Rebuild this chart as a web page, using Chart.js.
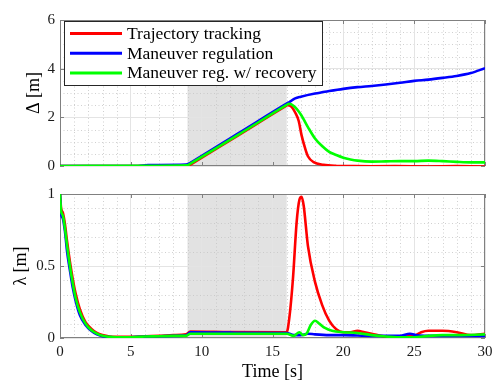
<!DOCTYPE html>
<html>
<head>
<meta charset="utf-8">
<script src="https://cdn.jsdelivr.net/npm/chart.js@4.4.1/dist/chart.umd.min.js"></script>
<style>
  body { margin: 0; background: #fff; }
  #wrap { position: relative; width: 492px; height: 381px; }
  canvas { position: absolute; left: 0; }
</style>
</head>
<body>
<div id="wrap">
  <canvas id="deltaChart" width="492" height="180" style="top:0;width:492px;height:180px"></canvas>
  <canvas id="lambdaChart" width="492" height="201" style="top:180px;width:492px;height:201px"></canvas>
</div>
<script>
// labels
const seriesNames = ["Trajectory tracking", "Maneuver regulation", "Maneuver reg. w/ recovery"];
const seriesColors = ["#ff0000", "#0000ff", "#00ff00"];
const xTicks = [0, 5, 10, 15, 20, 25, 30];
const shadeWindow = [9, 16];

// top plot: Delta [m]
const tDeltaTrack = [0, 6, 7, 9, 9.15, 12.5, 15.9, 16.05, 16.35, 16.6, 16.85, 17.05, 17.3, 17.5, 17.9, 18.6, 19.5, 22, 26, 30];
const deltaTrack = [0, 0, -0.01, -0.02, 0.035, 1.23, 2.45, 2.5, 2.43, 2.2, 1.85, 1.27, 0.73, 0.4, 0.16, 0.05, 0.01, -0.01, -0.02, -0.02];
const tDeltaReg = [0, 5.5, 6.2, 8.9, 9.2, 9.35, 12.7, 16.05, 16.2, 16.6, 17, 18, 19, 20, 21, 22, 23, 24, 25, 26, 27, 28, 29, 30];
const deltaReg = [0, 0, 0.04, 0.06, 0.13, 0.18, 1.38, 2.58, 2.63, 2.78, 2.85, 2.98, 3.08, 3.17, 3.24, 3.29, 3.35, 3.42, 3.5, 3.55, 3.62, 3.7, 3.82, 4.02];
const tDeltaRecov = [0, 6, 9, 9.15, 12.6, 16.0, 16.15, 16.5, 17, 17.5, 18, 18.5, 19, 19.5, 20, 20.5, 21, 22, 23, 24, 25, 26, 27, 28, 29, 30];
const deltaRecov = [0, 0.01, 0.03, 0.08, 1.29, 2.51, 2.56, 2.47, 2.12, 1.6, 1.13, 0.82, 0.58, 0.45, 0.34, 0.27, 0.22, 0.18, 0.19, 0.2, 0.2, 0.22, 0.2, 0.17, 0.15, 0.15];

// bottom plot: lambda [m]
const tLamTrack = [0, 0.08, 0.2, 0.35, 0.5, 0.7, 0.9, 1.1, 1.4, 1.8, 2.2, 2.6, 3, 3.5, 4, 5, 6, 7, 8, 8.9, 9.2, 12, 16, 16.2, 16.45, 16.7, 16.9, 17.05, 17.2, 17.5, 18, 18.5, 19, 19.5, 20, 20.5, 21, 21.5, 22, 23, 24, 25, 25.5, 26, 27, 28, 29, 30];
const lamTrack = [1, 0.9, 0.87, 0.79, 0.67, 0.53, 0.41, 0.31, 0.2, 0.11, 0.065, 0.035, 0.02, 0.01, 0.008, 0.008, 0.012, 0.015, 0.02, 0.025, 0.045, 0.042, 0.04, 0.15, 0.42, 0.8, 0.96, 0.98, 0.92, 0.64, 0.39, 0.23, 0.12, 0.06, 0.04, 0.04, 0.05, 0.04, 0.03, 0.01, 0.01, 0.015, 0.04, 0.05, 0.05, 0.04, 0.02, 0.03];
const tLamReg = [0, 0.08, 0.2, 0.35, 0.5, 0.7, 0.9, 1.1, 1.4, 1.8, 2.2, 2.6, 3, 3.5, 4, 5, 6, 7, 8, 8.9, 9.2, 12, 16, 16.5, 17, 17.5, 18, 19, 20, 22, 24, 24.7, 25.2, 26, 28, 30];
const lamReg = [1, 0.86, 0.83, 0.74, 0.6, 0.47, 0.35, 0.26, 0.16, 0.09, 0.05, 0.025, 0.012, 0.006, 0.004, 0.005, 0.01, 0.012, 0.015, 0.018, 0.04, 0.037, 0.035, 0.02, 0.02, 0.03, 0.025, 0.02, 0.02, 0.015, 0.015, 0.03, 0.018, 0.015, 0.015, 0.015];
const tLamRecov = [0, 0.08, 0.2, 0.35, 0.5, 0.7, 0.9, 1.1, 1.4, 1.8, 2.2, 2.6, 3, 3.5, 4, 5, 6, 7, 8, 8.9, 9.2, 12, 16, 16.5, 16.9, 17.15, 17.4, 17.7, 18, 18.3, 18.7, 19.2, 20, 21, 22, 23, 24, 25, 26, 27, 28, 30];
const lamRecov = [1, 0.88, 0.85, 0.76, 0.64, 0.5, 0.38, 0.28, 0.18, 0.1, 0.055, 0.03, 0.015, 0.008, 0.005, 0.005, 0.01, 0.012, 0.015, 0.015, 0.03, 0.03, 0.03, 0.015, 0.04, 0.02, 0.03, 0.09, 0.12, 0.1, 0.07, 0.05, 0.04, 0.035, 0.02, 0.01, 0.005, 0.005, 0.015, 0.02, 0.02, 0.025];

const serif = "'Liberation Serif', 'Times New Roman', serif";
const pts = (t, v) => t.map((x, i) => ({ x: x, y: v[i] }));

const makeSet = (i, t, v) => ({
  label: seriesNames[i],
  data: pts(t, v),
  borderColor: seriesColors[i],
  borderWidth: 2.6,
  pointRadius: 0,
  cubicInterpolationMode: "monotone",
  order: 2 - i,
});

// shaded window, minor grid, frame, inward ticks
const matlabAxes = {
  id: "matlabAxes",
  beforeDraw(chart, args, opts) {
    const { ctx, chartArea: a, scales: { x, y } } = chart;
    ctx.save();
    const x0 = x.getPixelForValue(shadeWindow[0]);
    const x1 = x.getPixelForValue(shadeWindow[1]);
    ctx.fillStyle = "#e2e2e2";
    ctx.fillRect(x0, a.top, x1 - x0, a.bottom - a.top);
    ctx.strokeStyle = "#c4c4c4";
    ctx.lineWidth = 0.8;
    ctx.setLineDash([1, 2.5]);
    for (let v = x.min; v <= x.max; v += 1) {
      if (v % 5 === 0) continue;
      const px = Math.round(x.getPixelForValue(v)) + 0.5;
      ctx.beginPath(); ctx.moveTo(px, a.top); ctx.lineTo(px, a.bottom); ctx.stroke();
    }
    const n = Math.round((y.max - y.min) / opts.minorY);
    for (let k = 1; k < n; k++) {
      const py = Math.round(y.getPixelForValue(y.min + k * opts.minorY)) + 0.5;
      ctx.beginPath(); ctx.moveTo(a.left, py); ctx.lineTo(a.right, py); ctx.stroke();
    }
    ctx.restore();
  },
  beforeDatasetsDraw(chart) {
    const { ctx, chartArea: a, scales: { x, y } } = chart;
    ctx.save();
    ctx.strokeStyle = "#808080";
    ctx.lineWidth = 1;
    ctx.strokeRect(a.left + 0.5, a.top + 0.5, a.right - a.left - 1, a.bottom - a.top - 1);
    ctx.beginPath();
    x.ticks.forEach(t => {
      const px = Math.round(x.getPixelForValue(t.value)) + 0.5;
      ctx.moveTo(px, a.bottom); ctx.lineTo(px, a.bottom - 4);
      ctx.moveTo(px, a.top); ctx.lineTo(px, a.top + 4);
    });
    y.ticks.forEach(t => {
      const py = Math.round(y.getPixelForValue(t.value)) + 0.5;
      ctx.moveTo(a.left, py); ctx.lineTo(a.left + 4, py);
      ctx.moveTo(a.right, py); ctx.lineTo(a.right - 4, py);
    });
    ctx.stroke();
    ctx.restore();
  },
};

// boxed legend in the upper-left corner
const boxLegend = {
  id: "boxLegend",
  afterDraw(chart) {
    const { ctx } = chart;
    ctx.save();
    ctx.fillStyle = "#fff";
    ctx.fillRect(64.5, 21.5, 258, 64);
    ctx.strokeStyle = "#262626";
    ctx.lineWidth = 1;
    ctx.strokeRect(64.5, 21.5, 258, 64);
    ctx.font = "17.5px " + serif;
    ctx.textBaseline = "middle";
    chart.data.datasets.forEach((ds, i) => {
      const yy = 33.5 + i * 19.7;
      ctx.strokeStyle = ds.borderColor;
      ctx.lineWidth = 3;
      ctx.beginPath(); ctx.moveTo(70, yy); ctx.lineTo(122, yy); ctx.stroke();
      ctx.fillStyle = "#000";
      ctx.fillText(ds.label, 127, yy + 1);
    });
    ctx.restore();
  },
};

Chart.defaults.font.family = serif;
Chart.defaults.color = "#1a1a1a";

const gridStyle = { color: "#e4e4e4", lineWidth: 1, drawTicks: false };
const noPad = s => { s.paddingLeft = 0; s.paddingRight = 0; };

new Chart(document.getElementById("deltaChart"), {
  type: "line",
  data: {
    datasets: [
      makeSet(0, tDeltaTrack, deltaTrack),
      makeSet(1, tDeltaReg, deltaReg),
      makeSet(2, tDeltaRecov, deltaRecov),
    ],
  },
  plugins: [matlabAxes, boxLegend],
  options: {
    responsive: false,
    animation: false,
    layout: { padding: { left: 23, right: 7, top: 20, bottom: 0 } },
    plugins: { legend: { display: false }, tooltip: { enabled: false }, matlabAxes: { minorY: 0.5 } },
    scales: {
      x: {
        type: "linear", min: 0, max: 30,
        afterBuildTicks: s => { s.ticks = xTicks.map(v => ({ value: v })); },
        ticks: { display: false },
        grid: gridStyle,
        border: { display: false },
        afterFit: s => { s.height = 12; noPad(s); },
      },
      y: {
        min: 0, max: 6,
        ticks: { stepSize: 2, padding: 5, font: { size: 15 } },
        grid: gridStyle,
        border: { display: false },
        title: { display: true, text: "Δ [m]", font: { size: 18 }, padding: 0, color: "#000" },
        afterFit: s => { s.width = 37; },
      },
    },
  },
});

new Chart(document.getElementById("lambdaChart"), {
  type: "line",
  data: {
    datasets: [
      makeSet(0, tLamTrack, lamTrack),
      makeSet(1, tLamReg, lamReg),
      makeSet(2, tLamRecov, lamRecov),
    ],
  },
  plugins: [matlabAxes],
  options: {
    responsive: false,
    animation: false,
    layout: { padding: { left: 10, right: 7, top: 11, bottom: 0 } },
    plugins: { legend: { display: false }, tooltip: { enabled: false }, matlabAxes: { minorY: 0.1 } },
    scales: {
      x: {
        type: "linear", min: 0, max: 30,
        afterBuildTicks: s => { s.ticks = xTicks.map(v => ({ value: v })); },
        ticks: { padding: 5, font: { size: 15 }, maxRotation: 0 },
        grid: gridStyle,
        border: { display: false },
        title: { display: true, text: "Time [s]", font: { size: 18 }, padding: { top: 0, bottom: -2 }, color: "#000" },
        afterFit: s => { s.height = 43; noPad(s); },
      },
      y: {
        min: 0, max: 1,
        ticks: { stepSize: 0.5, padding: 5, font: { size: 15 }, callback: v => String(v) },
        grid: gridStyle,
        border: { display: false },
        title: { display: true, text: "λ [m]", font: { size: 18 }, padding: 0, color: "#000" },
        afterFit: s => { s.width = 50; },
      },
    },
  },
});
</script>
</body>
</html>
